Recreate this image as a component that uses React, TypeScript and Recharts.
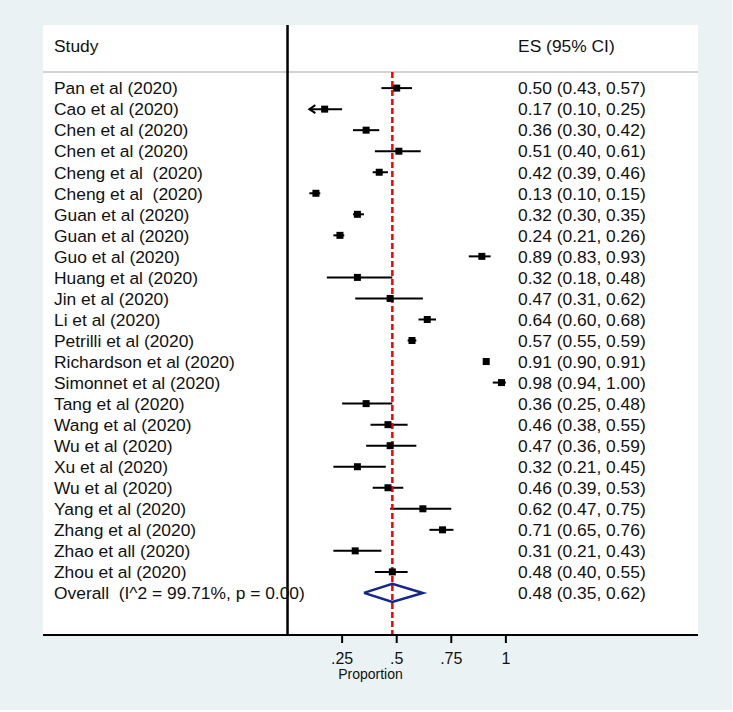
import React from "react";
import {
  ScatterChart,
  Scatter,
  XAxis,
  YAxis,
  ReferenceLine,
  CartesianGrid,
} from "recharts";

// study rows, top to bottom
const STUDIES = [
  "Pan et al (2020)",
  "Cao et al (2020)",
  "Chen et al (2020)",
  "Chen et al (2020)",
  "Cheng et al  (2020)",
  "Cheng et al  (2020)",
  "Guan et al (2020)",
  "Guan et al (2020)",
  "Guo et al (2020)",
  "Huang et al (2020)",
  "Jin et al (2020)",
  "Li et al (2020)",
  "Petrilli et al (2020)",
  "Richardson et al (2020)",
  "Simonnet et al (2020)",
  "Tang et al (2020)",
  "Wang et al (2020)",
  "Wu et al (2020)",
  "Xu et al (2020)",
  "Wu et al (2020)",
  "Yang et al (2020)",
  "Zhang et al (2020)",
  "Zhao et all (2020)",
  "Zhou et al (2020)",
];
const ES = [0.5, 0.17, 0.36, 0.51, 0.42, 0.13, 0.32, 0.24, 0.89, 0.32, 0.47, 0.64, 0.57, 0.91, 0.98, 0.36, 0.46, 0.47, 0.32, 0.46, 0.62, 0.71, 0.31, 0.48];
const LO = [0.43, 0.1, 0.3, 0.4, 0.39, 0.1, 0.3, 0.21, 0.83, 0.18, 0.31, 0.6, 0.55, 0.9, 0.94, 0.25, 0.38, 0.36, 0.21, 0.39, 0.47, 0.65, 0.21, 0.4];
const HI = [0.57, 0.25, 0.42, 0.61, 0.46, 0.15, 0.35, 0.26, 0.93, 0.48, 0.62, 0.68, 0.59, 0.91, 1.0, 0.48, 0.55, 0.59, 0.45, 0.53, 0.75, 0.76, 0.43, 0.55];
// CI clipped at the axis minimum (drawn with an arrow)
const CLIPPED_LOW = [1];

const OVERALL_LABEL = "Overall  (I^2 = 99.71%, p = 0.00)";
const OVERALL = { es: 0.48, lo: 0.35, hi: 0.62 };

const X_TICKS = [0.25, 0.5, 0.75, 1];
const X_DOMAIN: [number, number] = [-1.12, 1.88];
const Y_DOMAIN: [number, number] = [-3, 26];
const HEADER_ROW = -2;
const HEADER_RULE = -0.76;
const OVERALL_ROW = STUDIES.length;
const DIAMOND_HALF = 0.43;
const ES_COLUMN_X = 1.056; // text column position, in axis units like Stata's metan

const BG = "#eaf2f3";
const NAVY = "#16258c";
const FONT = "'Liberation Sans', Arial, Helvetica, sans-serif";
const TEXT_SIZE = 17.4;

const fmt = (v: number) => v.toFixed(2);
const esText = (e: number, l: number, h: number) => `${fmt(e)} (${fmt(l)}, ${fmt(h)})`;

const ROW_TICKS = [HEADER_ROW, ...STUDIES.map((_, i) => i), OVERALL_ROW];

const points = STUDIES.map((name, i) => ({ x: ES[i], y: i, name }));
const arrows = CLIPPED_LOW.map((i) => ({ x: LO[i], y: i }));
const diamond = [
  { x: OVERALL.lo, y: OVERALL_ROW },
  { x: OVERALL.es, y: OVERALL_ROW - DIAMOND_HALF },
  { x: OVERALL.hi, y: OVERALL_ROW },
  { x: OVERALL.es, y: OVERALL_ROW + DIAMOND_HALF },
  { x: OVERALL.lo, y: OVERALL_ROW },
];
const esColumn = [
  { x: ES_COLUMN_X, y: HEADER_ROW, label: "ES (95% CI)" },
  ...STUDIES.map((_, i) => ({ x: ES_COLUMN_X, y: i, label: esText(ES[i], LO[i], HI[i]) })),
  { x: ES_COLUMN_X, y: OVERALL_ROW, label: esText(OVERALL.es, OVERALL.lo, OVERALL.hi) },
];

const StudyTick = (props: any) => {
  const { x, y, payload } = props;
  const v = payload.value;
  const label = v === HEADER_ROW ? "Study" : v === OVERALL_ROW ? OVERALL_LABEL : STUDIES[v];
  return (
    <text x={x} y={y} dy="0.36em" textAnchor="start" fontSize={TEXT_SIZE} fontFamily={FONT} fill="#111" style={{ whiteSpace: "pre" }}>
      {label}
    </text>
  );
};

const EsLabel = (p: any) => (
  <text x={p.cx} y={p.cy} dy="0.36em" textAnchor="start" fontSize={TEXT_SIZE} fontFamily={FONT} fill="#111">
    {p.payload.label}
  </text>
);

const Square = (p: any) => <rect x={p.cx - 3.5} y={p.cy - 3.5} width={7} height={7} fill="#000" />;

const Arrow = (p: any) => (
  <path d={`M${p.cx + 6},${p.cy - 4} L${p.cx},${p.cy} L${p.cx + 6},${p.cy + 4}`} fill="none" stroke="#000" strokeWidth={2} />
);

const xFormat = (v: number) => (v === 1 ? "1" : String(v).replace(/^0/, ""));

export default function App() {
  return (
    <div style={{ position: "absolute", left: 0, top: 0, width: 732, height: 710, background: BG }}>
      <ScatterChart width={733} height={712} margin={{ top: 25, right: 35, left: 43, bottom: 17 }}>
        <CartesianGrid horizontal={false} vertical={false} fill="#fff" />
        <XAxis
          type="number"
          dataKey="x"
          domain={X_DOMAIN}
          ticks={X_TICKS}
          allowDataOverflow
          height={60}
          tickFormatter={xFormat}
          tickSize={8}
          tickMargin={10}
          axisLine={{ stroke: "#000", strokeWidth: 2 }}
          tickLine={{ stroke: "#000", strokeWidth: 2 }}
          tick={{ fontSize: 16, fill: "#111", fontFamily: FONT }}
          label={{ value: "Proportion", position: "insideBottom", offset: 16, fontSize: 14, fill: "#111", fontFamily: FONT }}
        />
        <YAxis
          yAxisId="rows"
          type="number"
          dataKey="y"
          domain={Y_DOMAIN}
          reversed
          mirror
          ticks={ROW_TICKS}
          interval={0}
          axisLine={false}
          tickLine={false}
          tickSize={0}
          tickMargin={11}
          tick={<StudyTick />}
        />
        <ReferenceLine yAxisId="rows" y={HEADER_RULE} stroke="#c4c4c4" strokeWidth={1.5} />
        <ReferenceLine yAxisId="rows" x={0} stroke="#000" strokeWidth={2.5} />
        {STUDIES.map((_, i) => (
          <ReferenceLine
            key={`ci-${i}`}
            yAxisId="rows"
            segment={[
              { x: LO[i], y: i },
              { x: HI[i], y: i },
            ]}
            stroke="#000"
            strokeWidth={2}
          />
        ))}
        <ReferenceLine
          yAxisId="rows"
          segment={[
            { x: OVERALL.es, y: HEADER_RULE },
            { x: OVERALL.es, y: Y_DOMAIN[1] },
          ]}
          stroke="#ff0000"
          strokeWidth={2.5}
          strokeDasharray="6 3"
        />
        <Scatter yAxisId="rows" data={points} shape={Square} isAnimationActive={false} />
        <Scatter yAxisId="rows" data={arrows} shape={Arrow} isAnimationActive={false} />
        <Scatter
          yAxisId="rows"
          data={diamond}
          line={{ stroke: NAVY, strokeWidth: 2.5 }}
          shape={() => <g />}
          isAnimationActive={false}
        />
        <Scatter yAxisId="rows" data={esColumn} shape={EsLabel} isAnimationActive={false} />
      </ScatterChart>
    </div>
  );
}
